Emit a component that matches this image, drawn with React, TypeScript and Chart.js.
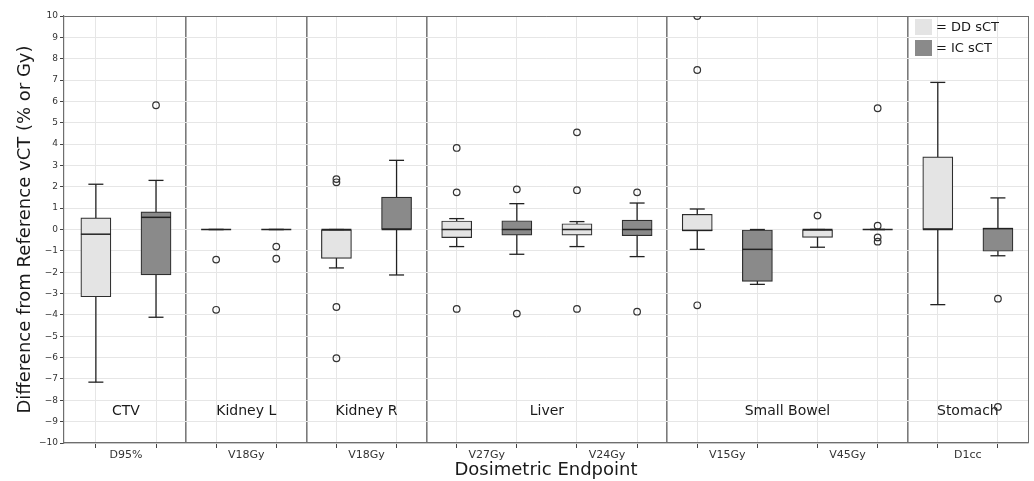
import React, { useEffect, useRef } from 'react';
import { Chart, registerables } from 'chart.js';

Chart.register(...registerables);

// ---------- data ----------
const groupNames = ['CTV', 'Kidney L', 'Kidney R', 'Liver', 'Small Bowel', 'Stomach'];
const endpointLabels = ['D95%', 'V18Gy', 'V18Gy', 'V27Gy', 'V24Gy', 'V15Gy', 'V45Gy', 'D1cc'];
const endpointGroup = [0, 1, 2, 3, 3, 4, 4, 5];
const seriesNames = ['DD sCT', 'IC sCT'];

// DD sCT
const ddWhiskerLow = [-7.15, 0, -1.8, -0.8, -0.8, -0.93, -0.83, -3.52];
const ddQ1 = [-3.15, 0, -1.35, -0.38, -0.26, -0.07, -0.37, 0];
const ddMedian = [-0.22, 0, 0, 0, 0, -0.04, 0, 0];
const ddQ3 = [0.55, 0, 0, 0.4, 0.27, 0.71, 0, 3.4];
const ddWhiskerHigh = [2.12, 0, 0, 0.51, 0.37, 0.96, 0, 6.89];
const ddOutliers = [[], [-1.41, -3.76], [2.36, 2.21, -3.63, -6.03], [3.82, 1.74, -3.72], [4.55, 1.84, -3.72], [10, 7.47, -3.55], [0.65], []];

// IC sCT
const icWhiskerLow = [-4.11, 0, -2.13, -1.16, -1.27, -2.57, 0, -1.23];
const icQ1 = [-2.13, 0, 0, -0.26, -0.29, -2.43, 0, -1.02];
const icMedian = [0.57, 0, 0, 0, 0, -0.93, 0, 0.04];
const icQ3 = [0.83, 0, 1.52, 0.41, 0.44, 0, 0, 0.07];
const icWhiskerHigh = [2.3, 0, 3.24, 1.21, 1.24, 0, 0, 1.48];
const icOutliers = [[5.82], [-0.8, -1.37], [], [1.88, -3.94], [1.74, -3.85], [], [5.68, 0.18, -0.37, -0.57], [-3.24, -8.31]];

const yTickMin = -10;
const yTickMax = 10;

// ---------- styles ----------
const FONT = "'DejaVu Sans', 'Liberation Sans', sans-serif";
const DD_FILL = '#e4e4e4';
const IC_FILL = '#8a8a8a';
const EDGE = '#2e2e2e';
const GRID = '#e6e6e6';
const FRAME = '#6e6e6e';

export default function App() {
  const canvasRef = useRef<HTMLCanvasElement | null>(null);

  useEffect(() => {
    const canvas = canvasRef.current;
    if (!canvas) return;

    const series = [
      { lo: ddWhiskerLow, q1: ddQ1, med: ddMedian, q3: ddQ3, hi: ddWhiskerHigh, out: ddOutliers, fill: DD_FILL },
      { lo: icWhiskerLow, q1: icQ1, med: icMedian, q3: icQ3, hi: icWhiskerHigh, out: icOutliers, fill: IC_FILL },
    ];
    const nEndpoints = endpointLabels.length;
    const nBoxes = nEndpoints * series.length;
    const boxX = (ep: number, s: number) => ep * series.length + s;

    const whiskers: any[] = [];
    const caps: any[] = [];
    const medians: any[] = [];
    const outliers: any[] = [];
    const boxDatasets: any[] = series.map((s, si) => ({
      type: 'bar',
      label: seriesNames[si],
      data: endpointLabels.map((_, ep) => ({ x: boxX(ep, si), y: [s.q1[ep], s.q3[ep]] })),
      backgroundColor: s.fill,
      borderColor: EDGE,
      borderWidth: 1.2,
      borderSkipped: false,
      grouped: false,
      categoryPercentage: 1,
      barPercentage: 1,
      order: 2,
    }));
    series.forEach((s, si) => {
      endpointLabels.forEach((_, ep) => {
        const x = boxX(ep, si);
        whiskers.push({ x, y: [s.lo[ep], s.hi[ep]] });
        caps.push({ x, y: s.lo[ep] });
        caps.push({ x, y: s.hi[ep] });
        medians.push({ x, y: s.med[ep] });
        s.out[ep].forEach((v) => outliers.push({ x, y: v }));
      });
    });

    // group boundaries / centers derived from group membership
    const groupFirst: number[] = [];
    const groupLast: number[] = [];
    endpointGroup.forEach((g, ep) => {
      if (groupFirst[g] === undefined) groupFirst[g] = boxX(ep, 0);
      groupLast[g] = boxX(ep, series.length - 1);
    });
    const separators = groupLast.slice(0, -1).map((v) => v + 0.5);
    const labelPos = endpointLabels.map((_, ep) => boxX(ep, 0) + (series.length - 1) / 2);
    const xMax = nBoxes - 0.5;
    const tickValues: number[] = [];
    for (let v = 0; v <= xMax + 1e-9; v += 0.5) tickValues.push(v);

    const isInt = (v: number) => Math.abs(v - Math.round(v)) < 1e-6;
    const near = (arr: number[], v: number) => arr.some((a) => Math.abs(a - v) < 1e-6);

    const groupLabelPlugin = {
      id: 'groupLabels',
      beforeDatasetsDraw(chart: any) {
        const { ctx, scales } = chart;
        ctx.save();
        ctx.font = `14px ${FONT}`;
        ctx.fillStyle = '#1a1a1a';
        ctx.textAlign = 'center';
        ctx.textBaseline = 'middle';
        groupNames.forEach((name, g) => {
          const cx = scales.x.getPixelForValue((groupFirst[g] + groupLast[g]) / 2);
          const cy = scales.y.getPixelForValue(-8.5);
          ctx.fillText(name, cx, cy);
        });
        ctx.restore();
      },
    };

    const chart = new Chart(canvas, {
      type: 'bar',
      data: {
        datasets: [
          {
            type: 'scatter',
            label: 'outliers',
            data: outliers,
            pointStyle: 'circle',
            pointRadius: 3.3,
            pointBackgroundColor: 'rgba(0,0,0,0)',
            pointBorderColor: '#333',
            pointBorderWidth: 1.2,
            clip: 0,
            order: 0,
          } as any,
          {
            type: 'scatter',
            label: 'medians',
            data: medians,
            pointStyle: 'line',
            pointRadius: 15,
            pointBorderColor: '#222',
            pointBorderWidth: 1.5,
            order: 1,
          } as any,
          {
            type: 'scatter',
            label: 'caps',
            data: caps,
            pointStyle: 'line',
            pointRadius: 7.5,
            pointBorderColor: '#222',
            pointBorderWidth: 1.3,
            order: 1,
          } as any,
          ...boxDatasets,
          {
            type: 'bar',
            label: 'whiskers',
            data: whiskers,
            backgroundColor: '#222',
            borderWidth: 0,
            grouped: false,
            maxBarThickness: 1.3,
            order: 3,
          } as any,
        ],
      },
      options: {
        animation: false,
        responsive: false,
        events: [],
        layout: { autoPadding: false, padding: { left: 0, right: 6, top: 16, bottom: 0 } },
        plugins: {
          legend: { display: false },
          tooltip: { enabled: false },
        },
        scales: {
          x: {
            type: 'linear',
            offset: false,
            min: -0.53,
            max: xMax,
            afterBuildTicks: (scale: any) => {
              scale.ticks = tickValues.map((v) => ({ value: v }));
            },
            afterFit: (scale: any) => {
              scale.height = 38;
              scale.paddingLeft = 0;
              scale.paddingRight = 0;
            },
            ticks: {
              autoSkip: false,
              maxRotation: 0,
              minRotation: 0,
              padding: 1,
              color: '#333',
              font: { family: FONT, size: 11 },
              callback: (value: any) => {
                const i = labelPos.findIndex((p) => Math.abs(p - value) < 1e-6);
                return i >= 0 ? endpointLabels[i] : '';
              },
            },
            grid: {
              offset: false,
              color: (ctx: any) => {
                const v = ctx.tick ? ctx.tick.value : 0;
                if (Math.abs(v - xMax) < 1e-6) return FRAME;
                if (near(separators, v)) return '#7a7a7a';
                return isInt(v) ? GRID : 'rgba(0,0,0,0)';
              },
              lineWidth: (ctx: any) => {
                const v = ctx.tick ? ctx.tick.value : 0;
                return near(separators, v) ? 1.6 : 1;
              },
              tickColor: (ctx: any) => {
                const v = ctx.tick ? ctx.tick.value : 0;
                return isInt(v) ? '#444' : 'rgba(0,0,0,0)';
              },
              tickLength: 5,
            },
            border: { color: FRAME, width: 1.2 },
            title: {
              display: true,
              text: 'Dosimetric Endpoint',
              color: '#1a1a1a',
              font: { family: FONT, size: 18 },
              padding: { top: 0, bottom: 0 },
            },
          } as any,
          y: {
            type: 'linear',
            min: yTickMin,
            max: yTickMax,
            afterFit: (scale: any) => {
              scale.width = 64;
            },
            ticks: {
              stepSize: 1,
              autoSkip: false,
              padding: 2,
              color: '#333',
              font: { family: FONT, size: 9 },
              callback: (value: any) => (value < 0 ? '\u2212' + Math.abs(value) : String(value)),
            },
            grid: {
              color: (ctx: any) => (ctx.tick && ctx.tick.value === yTickMax ? FRAME : GRID),
              tickColor: '#444',
              tickLength: 4,
            },
            border: { color: FRAME, width: 1.2 },
            title: {
              display: true,
              text: 'Difference from Reference vCT (% or Gy)',
              color: '#1a1a1a',
              font: { family: FONT, size: 18 },
              padding: { top: 15, bottom: 0 },
            },
          } as any,
        },
      } as any,
      plugins: [groupLabelPlugin],
    });

    return () => chart.destroy();
  }, []);

  const legendRow = (fill: string, text: string) => (
    <div style={{ display: 'flex', alignItems: 'center', height: 20.5 }}>
      <div style={{ width: 17, height: 16, background: fill, marginRight: 4 }} />
      <span>= {text}</span>
    </div>
  );

  return (
    <div style={{ position: 'absolute', left: 0, top: 0, width: 1034, height: 481, background: '#fff' }}>
      <canvas ref={canvasRef} width={1034} height={481} style={{ display: 'block' }} />
      <div
        style={{
          position: 'absolute',
          left: 915,
          top: 17,
          fontFamily: FONT,
          fontSize: 13,
          color: '#1a1a1a',
          lineHeight: '16px',
        }}
      >
        {legendRow(DD_FILL, seriesNames[0])}
        {legendRow(IC_FILL, seriesNames[1])}
      </div>
    </div>
  );
}
